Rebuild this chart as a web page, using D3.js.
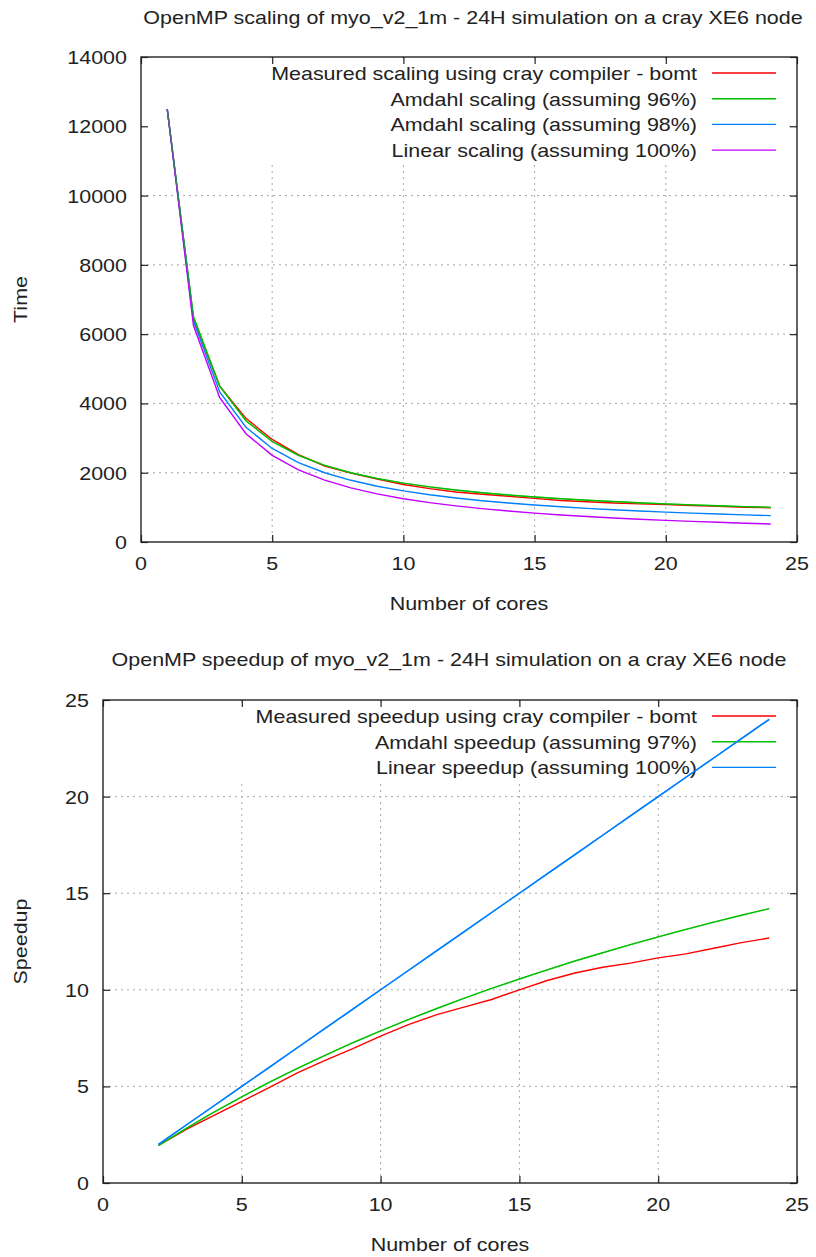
<!DOCTYPE html>
<html>
<head>
<meta charset="utf-8">
<script src="https://cdn.jsdelivr.net/npm/d3@7.9.0/dist/d3.min.js"></script>
<style>
  body { margin: 0; background: #fff; }
  svg text { font-family: "Liberation Sans", Arial, sans-serif; fill: #222; }
</style>
</head>
<body>
<svg id="chart" width="816" height="1257"></svg>
<script>
// --- top chart: time vs cores ---
const coresTop = [1,2,3,4,5,6,7,8,9,10,11,12,13,14,15,16,17,18,19,20,21,22,23,24];
const measuredTime = [12500,6440,4500,3570,2960,2525,2190,1990,1820,1660,1540,1445,1380,1320,1260,1200,1160,1125,1100,1080,1055,1030,1005,990];
const amdahl96Time = [12500,6500,4500,3500,2900,2500,2214,2000,1833,1700,1591,1500,1423,1357,1300,1250,1206,1167,1132,1100,1071,1045,1022,1000];
const amdahl98Time = [12500,6375,4333,3313,2700,2292,2000,1781,1611,1475,1364,1271,1192,1125,1067,1016,971,931,895,863,833,807,783,760];
const linearTime = [12500,6250,4167,3125,2500,2083,1786,1563,1389,1250,1136,1042,962,893,833,781,735,694,658,625,595,568,543,521];
const topLabels = ["Measured scaling using cray compiler - bomt", "Amdahl scaling (assuming 96%)", "Amdahl scaling (assuming 98%)", "Linear scaling (assuming 100%)"];

// --- bottom chart: speedup vs cores ---
const coresBottom = [2,3,4,5,6,7,8,9,10,11,12,13,14,15,16,17,18,19,20,21,22,23,24];
const measuredSpeedup = [1.94,2.78,3.5,4.22,4.95,5.7,6.35,6.95,7.6,8.2,8.7,9.1,9.5,10.0,10.48,10.87,11.17,11.38,11.65,11.86,12.15,12.44,12.68];
const amdahl97Speedup = [1.94,2.83,3.67,4.46,5.22,5.93,6.61,7.26,7.87,8.46,9.02,9.56,10.07,10.56,11.03,11.49,11.92,12.34,12.74,13.13,13.5,13.86,14.2];
const linearSpeedup = [2,3,4,5,6,7,8,9,10,11,12,13,14,15,16,17,18,19,20,21,22,23,24];
const bottomLabels = ["Measured speedup using cray compiler - bomt", "Amdahl speedup (assuming 97%)", "Linear speedup (assuming 100%)"];

const xTicks = [0,5,10,15,20,25];
const timeTicks = [0,2000,4000,6000,8000,10000,12000,14000];
const speedupTicks = [0,5,10,15,20,25];

const svg = d3.select('#chart');
const FS = 19, SX = 1.13;  // gnuplot text is a bit wider than plain Liberation Sans

// text with a small horizontal stretch, anchored at (x, y)
function label(parent, x, y, str, anchor, rot) {
  const t = parent.append('g')
    .attr('transform', `translate(${x},${y})` + (rot ? ` rotate(${rot})` : '') + ` scale(${SX},1)`)
    .append('text').attr('text-anchor', anchor || 'middle').attr('font-size', FS).text(str);
  return t;
}

function drawPanel(cfg) {
  const g = svg.append('g');
  const x = d3.scaleLinear().domain([0, 25]).range([cfg.left, cfg.right]);
  const y = d3.scaleLinear().domain(cfg.yDomain).range([cfg.bottom, cfg.top]);

  // grid
  const grid = g.append('g').attr('stroke', '#a8a8a8').attr('stroke-dasharray', '2,4').attr('stroke-width', 1);
  grid.selectAll('line.gx').data(xTicks.slice(1, -1)).join('line')
    .attr('x1', d => x(d)).attr('x2', d => x(d)).attr('y1', cfg.top).attr('y2', cfg.bottom);
  grid.selectAll('line.gy').data(cfg.yTicks.slice(1, -1)).join('line')
    .attr('x1', cfg.left).attr('x2', cfg.right).attr('y1', d => y(d)).attr('y2', d => y(d));

  // key background hides the grid
  g.append('rect').attr('x', cfg.left + 2).attr('y', cfg.keyY - 12)
    .attr('width', 786 - cfg.left).attr('height', cfg.keyRows * 25.5 + 2).attr('fill', '#fff');

  // axes (ticks on all four sides, pointing in)
  const tick = 7;
  const axB = d3.axisBottom(x).tickValues(xTicks).tickSize(-tick).tickFormat('');
  const axT = d3.axisTop(x).tickValues(xTicks).tickSize(-tick).tickFormat('');
  const axL = d3.axisLeft(y).tickValues(cfg.yTicks).tickSize(-tick).tickFormat('');
  const axR = d3.axisRight(y).tickValues(cfg.yTicks).tickSize(-tick).tickFormat('');
  [[axB, `translate(0,${cfg.bottom})`], [axT, `translate(0,${cfg.top})`],
   [axL, `translate(${cfg.left},0)`], [axR, `translate(${cfg.right},0)`]].forEach(([ax, tr]) => {
    const a = g.append('g').attr('transform', tr).call(ax);
    a.select('.domain').remove();
    a.selectAll('line').attr('stroke', '#222').attr('stroke-width', 1.2);
  });
  g.append('rect').attr('x', cfg.left).attr('y', cfg.top)
    .attr('width', cfg.right - cfg.left).attr('height', cfg.bottom - cfg.top)
    .attr('fill', 'none').attr('stroke', '#222').attr('stroke-width', 1.4);

  // tick labels
  xTicks.forEach(v => label(g, x(v), cfg.bottom + 28, String(v), 'middle'));
  cfg.yTicks.forEach(v => label(g, cfg.left - 14, y(v) + 7, String(v), 'end'));

  // curves
  const line = d3.line().x(d => x(d[0])).y(d => y(d[1]));
  cfg.series.forEach((s, i) => {
    g.append('path').datum(cfg.xs.map((c, j) => [c, s[j]]))
      .attr('d', line).attr('fill', 'none').attr('stroke', cfg.colors[i]).attr('stroke-width', 1.4);
  });
  // green over red where they overlap
  g.append('path').datum(cfg.xs.map((c, j) => [c, cfg.series[1][j]]))
    .attr('d', line).attr('fill', 'none').attr('stroke', cfg.colors[1]).attr('stroke-width', 1.2).attr('opacity', 0.6);

  // key
  cfg.labels.forEach((lab, i) => {
    const yy = cfg.keyY + i * 25.7;
    label(g, 697, yy + 7, lab, 'end');
    g.append('line').attr('x1', 712).attr('x2', 776).attr('y1', yy).attr('y2', yy)
      .attr('stroke', cfg.colors[i]).attr('stroke-width', 1.4);
  });
  // linear line passes over the key in the bottom chart
  if (cfg.redrawLast) {
    const last = cfg.series.length - 1;
    g.append('path').datum(cfg.xs.map((c, j) => [c, cfg.series[last][j]]))
      .attr('d', line).attr('fill', 'none').attr('stroke', cfg.colors[last]).attr('stroke-width', 1.4);
  }

  // titles
  label(svg, cfg.titleX, cfg.titleY, cfg.title, 'middle');
  label(svg, (cfg.left + cfg.right) / 2, cfg.bottom + 68, 'Number of cores', 'middle');
  label(svg, 27, (cfg.top + cfg.bottom) / 2, cfg.yLabel, 'middle', -90);
}

drawPanel({
  left: 141, right: 797, top: 57, bottom: 542,
  yDomain: [0, 14000], yTicks: timeTicks,
  xs: coresTop,
  series: [measuredTime, amdahl96Time, amdahl98Time, linearTime],
  colors: ['#ff0000', '#00c000', '#0080ff', '#c000ff'],
  labels: topLabels, keyY: 73, keyRows: 4,
  title: 'OpenMP scaling of myo_v2_1m - 24H simulation on a cray XE6 node',
  titleX: 473, titleY: 24, yLabel: 'Time', redrawLast: false
});

drawPanel({
  left: 103, right: 797, top: 700, bottom: 1183,
  yDomain: [0, 25], yTicks: speedupTicks,
  xs: coresBottom,
  series: [measuredSpeedup, amdahl97Speedup, linearSpeedup],
  colors: ['#ff0000', '#00c000', '#0080ff'],
  labels: bottomLabels, keyY: 716, keyRows: 3,
  title: 'OpenMP speedup of myo_v2_1m - 24H simulation on a cray XE6 node',
  titleX: 449, titleY: 666, yLabel: 'Speedup', redrawLast: true
});
</script>
</body>
</html>
